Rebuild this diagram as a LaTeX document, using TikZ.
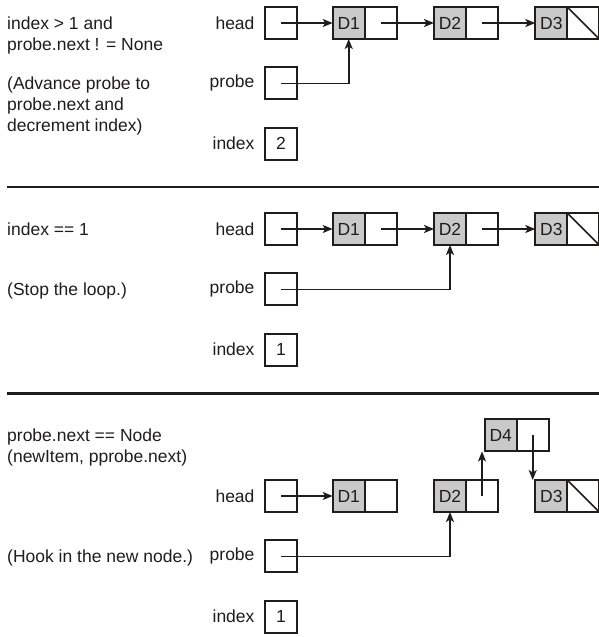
\documentclass[tikz,border=0pt]{standalone}
\usepackage{fontspec}
\setmainfont{Liberation Sans}
\usetikzlibrary{arrows.meta,positioning}
\definecolor{CellClr}{rgb}{0.79,0.79,0.79}
\definecolor{LineClr}{rgb}{0.12,0.11,0.11}

\begin{document}
\begin{tikzpicture}[x=1pt,y=-1pt,
  every node/.style={font=\fontsize{17.5}{21}\selectfont,text=LineClr},
  box/.style={draw=LineClr,line width=2pt,minimum size=32pt,inner sep=0pt,outer sep=0pt},
  datbox/.style={box,fill=CellClr},
  ptr/.style={draw=LineClr,line width=1.6pt,-{Stealth[length=10pt,width=8pt,inset=2.5pt]}},
  note/.style={anchor=north west,align=left,inner sep=0pt}]
\clip (0,0) rectangle (599,637);

% the three snapshots share head, probe, index and the list D1 D2 D3
\foreach \s/\dy/\k in {a/0/2,b/206/1,c/473/1}{
  \node[box] (head\s) at (281,23+\dy) {};
  \node[box] (probe\s) at (281,83.3+\dy) {};
  \node[box] (index\s) at (281,143.7+\dy) {\k};
  \node[left=7pt of head\s] (lhead\s) {head};
  \node[left=7pt of probe\s] (lprobe\s) {probe};
  \node[left=7pt of index\s] (lindex\s) {index};
  \foreach \i/\x in {1/348.7,2/450,3/551.3}{
    \node[datbox] (\s D\i) at (\x,23+\dy) {D\i};
    \node[box,right=0pt of \s D\i] (\s N\i) {};
  }
  \draw[ptr] (head\s.center) -- (\s D1.west);
  \draw[LineClr,line width=1.6pt] (\s N3.north west) -- (\s N3.south east);
}

% advance
\draw[ptr] (aN1.center) -- (aD2.west);
\draw[ptr] (aN2.center) -- (aD3.west);
\draw[ptr] (probea.center) -| (aD1.south);
\node[note] (notea1) at (7,16.5) {index > 1 and\\probe.next ! = None};
\node[note] (notea2) at (7,76.8) {(Advance probe to\\probe.next and\\decrement index)};

\draw[LineClr,line width=2.2pt] (7,186.7) -- (599,186.7);

% stop
\draw[ptr] (bN1.center) -- (bD2.west);
\draw[ptr] (bN2.center) -- (bD3.west);
\draw[ptr] (probeb.center) -| (bD2.south);
\node[note] (noteb1) at (7,222.5) {index == 1};
\node[note] (noteb2) at (7,282.8) {(Stop the loop.)};

\draw[LineClr,line width=2.2pt] (7,393.5) -- (599,393.5);

% hook in
\node[datbox] (cD4) at (500.7,435.4) {D4};
\node[box,right=0pt of cD4] (cN4) {};
\draw[ptr] (cN2.center) -- (cN2.center |- cD4.south);
\draw[ptr] (cN4.center) -- (cN4.center |- cD3.north);
\draw[ptr] (probec.center) -| (cD2.south);
\node[note] (notec1) at (7,428.9) {probe.next == Node\\(newItem, pprobe.next)};
\node[note] (notec2) at (7,549.8) {(Hook in the new node.)};

\end{tikzpicture}
\end{document}
